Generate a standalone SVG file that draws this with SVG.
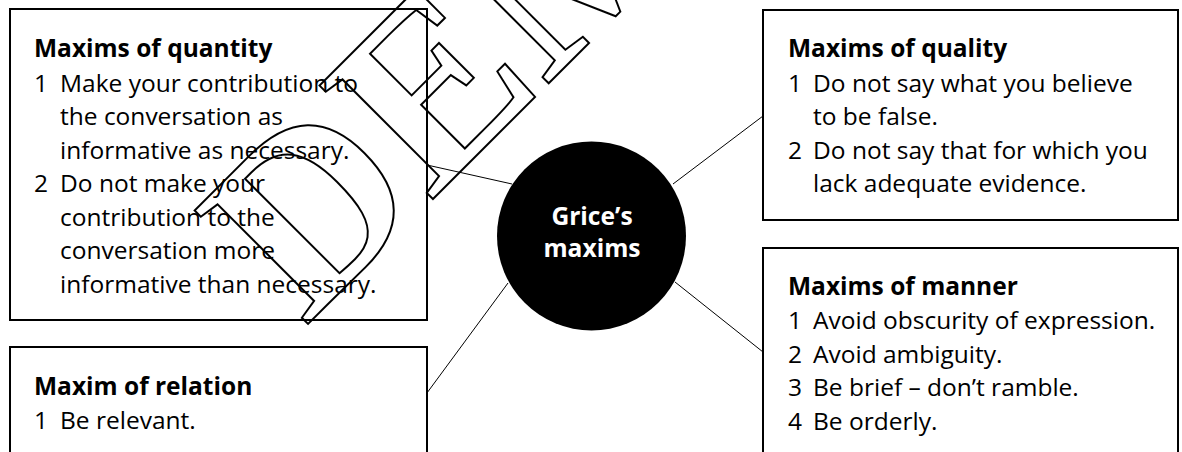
<svg xmlns="http://www.w3.org/2000/svg" width="1182" height="452" viewBox="0 0 1182 452">
<style>
.box{fill:#fff;stroke:#000;stroke-width:2}
.t{font-family:"Open Sans","Noto Sans","Liberation Sans",sans-serif;font-size:24.5px;fill:#000}
.h{font-weight:bold}
.c{stroke:#000;stroke-width:1;fill:none}
.hub{font-family:"Open Sans","Noto Sans","Liberation Sans",sans-serif;font-size:24.6px;font-weight:bold;fill:#fff;text-anchor:middle}
.wm{font-family:"Liberation Serif",serif;font-size:245px;font-weight:bold;fill:none;stroke:#000;stroke-width:2}
</style>
<rect width="1182" height="452" fill="#fff"/>
<g id="connectors">
<line class="c" x1="427" y1="165" x2="512" y2="184"/>
<line class="c" x1="673" y1="184" x2="763" y2="116"/>
<line class="c" x1="424" y1="397" x2="508" y2="283"/>
<line class="c" x1="675" y1="282" x2="763" y2="352"/>
</g>
<g id="quantity">
<rect class="box" x="10" y="9" width="417" height="311"/>
<text class="t h" x="34" y="57">Maxims of quantity</text>
<text class="t"><tspan x="34" y="91.5">1</tspan><tspan x="60" y="91.5">Make your contribution to</tspan><tspan x="60" y="125">the conversation as</tspan><tspan x="60" y="158.5">informative as necessary.</tspan><tspan x="34" y="192">2</tspan><tspan x="60" y="192">Do not make your</tspan><tspan x="60" y="225.5">contribution to the</tspan><tspan x="60" y="259">conversation more</tspan><tspan x="60" y="292.5">informative than necessary.</tspan></text>
</g>
<g id="quality">
<rect class="box" x="763" y="10" width="415" height="210"/>
<text class="t h" x="788" y="57">Maxims of quality</text>
<text class="t"><tspan x="788" y="91.5">1</tspan><tspan x="813" y="91.5">Do not say what you believe</tspan><tspan x="813" y="125">to be false.</tspan><tspan x="788" y="158.5">2</tspan><tspan x="813" y="158.5">Do not say that for which you</tspan><tspan x="813" y="192">lack adequate evidence.</tspan></text>
</g>
<g id="relation">
<rect class="box" x="10" y="347" width="417" height="130"/>
<text class="t h" x="34" y="395">Maxim of relation</text>
<text class="t"><tspan x="34" y="428.5">1</tspan><tspan x="60" y="428.5">Be relevant.</tspan></text>
</g>
<g id="manner">
<rect class="box" x="763" y="248" width="415" height="230"/>
<text class="t h" x="788" y="295">Maxims of manner</text>
<text class="t"><tspan x="788" y="329">1</tspan><tspan x="813" y="329">Avoid obscurity of expression.</tspan><tspan x="788" y="362.5">2</tspan><tspan x="813" y="362.5">Avoid ambiguity.</tspan><tspan x="788" y="396">3</tspan><tspan x="813" y="396">Be brief – don’t ramble.</tspan><tspan x="788" y="429.5">4</tspan><tspan x="813" y="429.5">Be orderly.</tspan></text>
</g>
<g id="hub">
<circle cx="591.5" cy="236" r="94.5" fill="#000"/>
<text class="hub" x="592" y="225">Grice’s</text>
<text class="hub" x="592" y="257">maxims</text>
</g>
<text class="wm" x="305" y="327" transform="rotate(-45 305 327)">DEMO</text>
</svg>
